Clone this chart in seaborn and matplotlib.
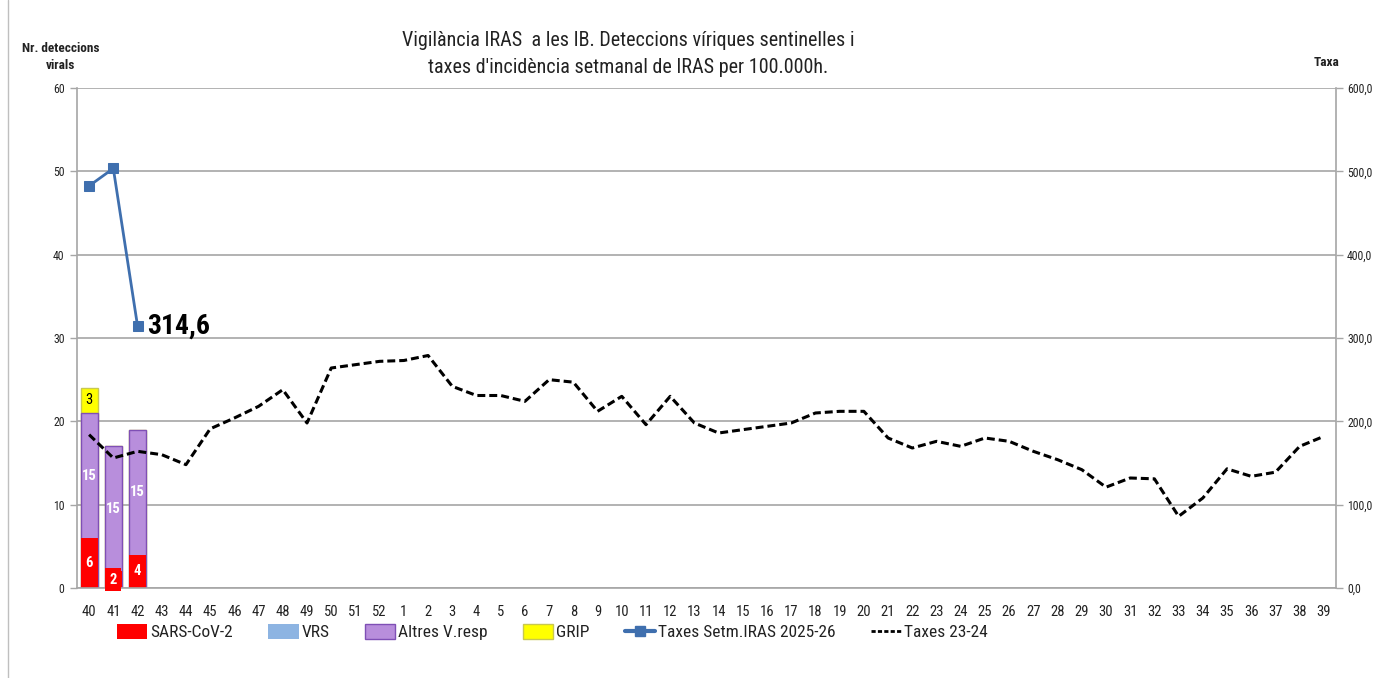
import numpy as np
import pandas as pd
import matplotlib
matplotlib.use("Agg")
import matplotlib.pyplot as plt
import seaborn as sns
from matplotlib.patches import Patch
from matplotlib.lines import Line2D
from matplotlib.ticker import FuncFormatter, FixedLocator

# Dades
setmanes = [str(s) for s in list(range(40, 53)) + list(range(1, 40))]
setmanes_barres = ["40", "41", "42"]
sars = [6, 2, 4]
vrs = [0, 0, 0]
altres = [15, 15, 15]
grip = [3, 0, 0]
taxes_2526 = [482.5, 503.5, 314.6]
taxes_2324 = [184, 156, 164, 160, 148, 191, 204, 218, 238, 198, 264, 268, 272,
              273, 279, 242, 231, 231, 224, 250, 247, 212, 230, 196, 230, 198, 186,
              190, 194, 198, 210, 212, 212, 180, 168, 176, 170, 180, 176, 164, 154,
              142, 121, 132, 131, 86, 108, 143, 134, 139, 170, 182]

sns.set_theme(style="white")
plt.rcParams["font.family"] = ["Roboto Condensed", "Carlito", "DejaVu Sans"]

C_SARS = "#FF0000"
C_VRS = "#8DB4E2"
C_ALTRES = "#B88EDC"
C_GRIP = "#FFFF00"
C_BLAU = "#3F6FAE"
C_GRIS = "#A6A6A6"
C_TEXT = "#222222"

fig = plt.figure(figsize=(13.76, 6.78), dpi=100)
ax = fig.add_axes([77 / 1376, 1 - 588 / 678, (1336 - 77) / 1376, 500 / 678])

df = pd.DataFrame({"setmana": setmanes_barres, "sars": sars, "vrs": vrs,
                   "altres": altres, "grip": grip})
df["t_vrs"] = df["sars"] + df["vrs"]
df["t_altres"] = df["t_vrs"] + df["altres"]
df["t_grip"] = df["t_altres"] + df["grip"]

# barres apilades (dibuixades de dalt a baix)
sns.barplot(data=df, x="setmana", y="t_grip", order=setmanes, color=C_GRIP,
            saturation=1, width=0.7, edgecolor="#C8C850", linewidth=1, ax=ax)
sns.barplot(data=df, x="setmana", y="t_altres", order=setmanes, color=C_ALTRES,
            saturation=1, width=0.7, edgecolor="#7F4FB5", linewidth=1, ax=ax)
sns.barplot(data=df, x="setmana", y="sars", order=setmanes, color=C_SARS,
            saturation=1, width=0.7, linewidth=0, ax=ax)

for i, row in df.iterrows():
    pos = setmanes.index(row["setmana"])
    if row["sars"] > 0:
        kw = {}
        if row["sars"] < 3:
            kw = dict(bbox=dict(facecolor=C_SARS, edgecolor="none", pad=3))
        ax.text(pos, row["sars"] / 2, str(row["sars"]), ha="center", va="center",
                color="white", fontsize=10.5, fontweight="bold", **kw)
    if row["altres"] > 0:
        ax.text(pos, row["t_vrs"] + row["altres"] / 2, str(row["altres"]),
                ha="center", va="center", color="white", fontsize=10.5, fontweight="bold")
    if row["grip"] > 0:
        ax.text(pos, row["t_altres"] + row["grip"] / 2, str(row["grip"]),
                ha="center", va="center", color="black", fontsize=10.5)

ax.set_ylim(0, 60)
ax.set_xlim(-0.5, len(setmanes) - 0.5)
ax.set_yticks(range(0, 61, 10))
ax.set_xticks(range(len(setmanes)))
ax.set_xticklabels(setmanes)
ax.xaxis.set_minor_locator(FixedLocator(np.arange(-0.5, len(setmanes), 1)))
ax.tick_params(axis="x", which="major", length=0, labelsize=10.5, pad=12, labelcolor=C_TEXT)
ax.tick_params(axis="x", which="minor", length=5, color=C_GRIS, width=1, direction="out")
ax.tick_params(axis="y", length=5, color=C_GRIS, width=1, labelsize=8.5, direction="out",
               pad=4, labelcolor=C_TEXT)
ax.set_xlabel("")
ax.set_ylabel("")
ax.grid(axis="y", color=C_GRIS, linewidth=1.2)
ax.set_axisbelow(True)
for s in ["left", "bottom"]:
    ax.spines[s].set_color(C_GRIS)
    ax.spines[s].set_linewidth(1.2)
ax.spines["top"].set_visible(False)
ax.spines["right"].set_visible(False)

# taxes (eix dret)
ax2 = ax.twinx()
x_pos = np.arange(len(setmanes))
sns.lineplot(x=x_pos, y=taxes_2324, ax=ax2, color="black", linewidth=2.2,
             linestyle=(0, (2.6, 1.3)))
sns.lineplot(x=x_pos[:len(taxes_2526)], y=taxes_2526, ax=ax2, color=C_BLAU,
             linewidth=2, marker="s", markersize=7, markeredgecolor=C_BLAU)
ax2.text(x_pos[len(taxes_2526) - 1] + 0.4, taxes_2526[-1],
         f"{taxes_2526[-1]:.1f}".replace(".", ","), ha="left", va="center",
         fontsize=20, fontweight="bold", color="black")
ax2.set_ylim(0, 600)
ax2.set_yticks(range(0, 601, 100))
ax2.yaxis.set_major_formatter(FuncFormatter(lambda v, p: f"{v:.1f}".replace(".", ",")))
ax2.tick_params(axis="y", length=5, color=C_GRIS, width=1, labelsize=8.5, direction="out",
                pad=3, labelcolor=C_TEXT)
ax2.grid(False)
ax2.set_ylabel("")
ax2.spines["right"].set_color(C_GRIS)
ax2.spines["right"].set_linewidth(1.2)
for s in ["left", "top", "bottom"]:
    ax2.spines[s].set_visible(False)

# textos
fig.text(628 / 1376, 1 - 54 / 678,
         "Vigilància IRAS  a les IB. Deteccions víriques sentinelles i\n"
         "taxes d'incidència setmanal de IRAS per 100.000h.",
         ha="center", va="center", fontsize=14.5, linespacing=1.5, color=C_TEXT)
fig.text(61 / 1376, 1 - 57 / 678, "Nr. deteccions\nvirals", ha="center", va="center",
         fontsize=9.5, fontweight="bold", linespacing=1.45, color=C_TEXT)
fig.text(1326 / 1376, 1 - 62 / 678, "Taxa", ha="center", va="center",
         fontsize=9.5, fontweight="bold", color=C_TEXT)

# vora del gràfic
fig.add_artist(Line2D([8 / 1376, 8 / 1376], [0, 1], transform=fig.transFigure,
                      color="#BFBFBF", linewidth=1))

handles = [
    Patch(facecolor=C_SARS, edgecolor="none", label="SARS-CoV-2"),
    Patch(facecolor=C_VRS, edgecolor="none", label="VRS"),
    Patch(facecolor=C_ALTRES, edgecolor="#7F4FB5", label="Altres V.resp"),
    Patch(facecolor=C_GRIP, edgecolor="#C8C850", label="GRIP"),
    Line2D([], [], color=C_BLAU, linewidth=3, marker="s", markersize=7,
           label="Taxes Setm.IRAS 2025-26"),
    Line2D([], [], color="black", linewidth=2, linestyle=(0, (1.5, 0.8)),
           label="Taxes 23-24"),
]
leg = fig.legend(handles=handles, loc="center left", bbox_to_anchor=(117 / 1376, 1 - 632 / 678),
                 ncol=6, frameon=False, fontsize=12.5, handlelength=1.75, handleheight=1.0,
                 handletextpad=0.15, columnspacing=2.05, borderpad=0, borderaxespad=0)
for t in leg.get_texts():
    t.set_color(C_TEXT)

fig.savefig("out.png", dpi=100)
